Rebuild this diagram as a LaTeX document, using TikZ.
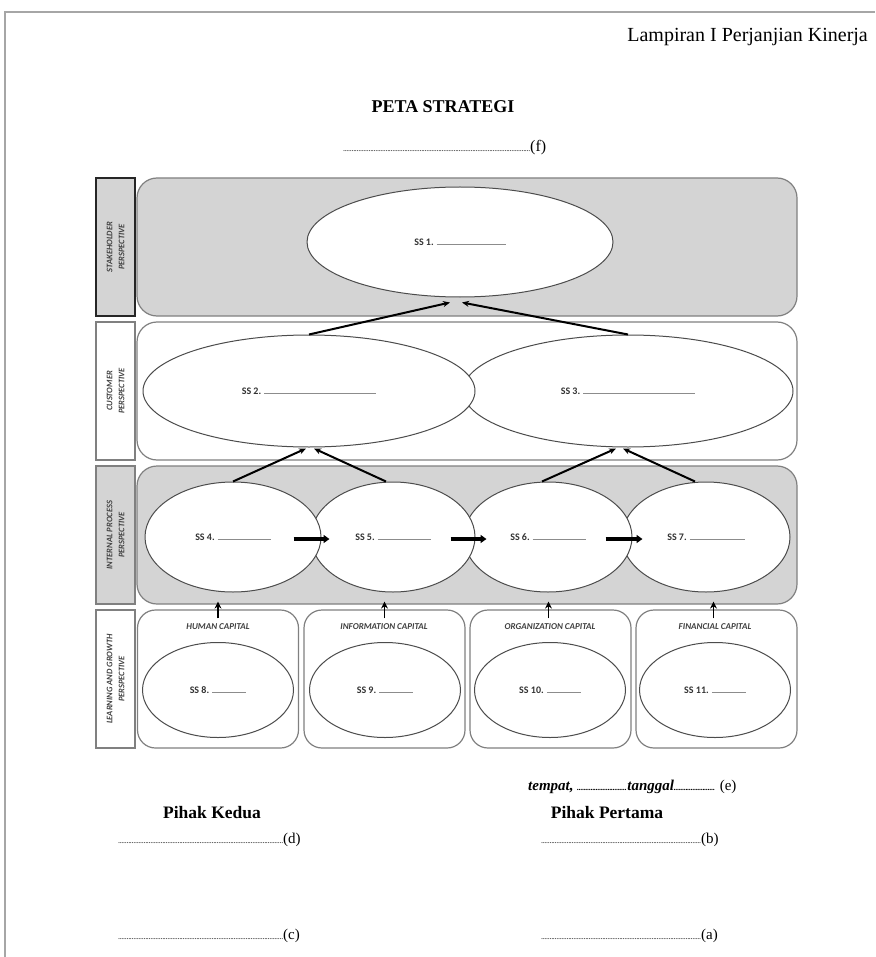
\documentclass[tikz,border=0pt]{standalone}
\usepackage{fontspec}
\setmainfont{Liberation Serif}
\newfontfamily\lblfont{Carlito}
\usetikzlibrary{shapes.geometric,arrows.meta,calc}
\newcommand{\ssline}[1]{\textcolor{black!45}{\rule[0.15ex]{#1}{0.7pt}}}
\newcommand{\dotrun}[1]{\makebox[#1]{\leaders\hbox to 1.7pt{\hss\fontsize{8}{8}\selectfont.\hss}\hfill}}
\begin{document}
\begin{tikzpicture}[x=1pt,y=-1pt,
  band/.style={draw=black!50, line width=1.2pt, rounded corners=20pt, minimum width=660pt, minimum height=138pt, inner sep=0pt},
  lgbox/.style={draw=black!50, line width=1.2pt, rounded corners=18pt, minimum width=161pt, minimum height=138pt, inner sep=0pt, fill=white},
  sidebox/.style={draw=black!50, line width=1.2pt, minimum width=39pt, minimum height=138pt, inner sep=0pt},
  sidetxt/.style={rotate=90, align=center, font=\lblfont\bfseries\itshape\fontsize{8.5}{12}\selectfont, text=black!75},
  goal/.style={ellipse, draw=black!70, line width=1pt, fill=white, inner sep=0pt, font=\lblfont\bfseries\fontsize{10}{11}\selectfont, text=black!80},
  captxt/.style={font=\lblfont\bfseries\itshape\fontsize{9}{11}\selectfont, text=black!75},
  link/.style={draw=black, line width=2pt, -{Stealth[length=7pt,width=6pt]}},
  flow/.style={draw=black, line width=3.2pt, -{Triangle[length=6pt,width=8pt]}},
  rise/.style={draw=black, line width=1.8pt, -{Stealth[length=7pt,width=7pt]}},
  ttl/.style={inner sep=0pt},
]
\useasboundingbox (0,0) rectangle (875,957);
\fill[white] (0,0) rectangle (875,957);
\draw[black!35, line width=1.2pt] (5,957) -- (5,12) -- (875,12);

% header
\node[ttl, font=\fontsize{20}{22}\selectfont, anchor=east] (lamp) at (868,37) {Lampiran I Perjanjian Kinerja};
\node[ttl, font=\bfseries\fontsize{18}{20}\selectfont] (title) at (443,107) {PETA STRATEGI};
\node[ttl, font=\fontsize{16}{18}\selectfont, anchor=west] (unit) at (343,148) {\dotrun{187pt}(f)};

% bands
\node[band, fill=black!17] (sh) at (467,247) {};
\node[band, fill=white] (cu) at (467,391) {};
\node[band, fill=black!17] (ip) at (467,535) {};
\node[lgbox] (lg1) at (218,679) {};
\node[lgbox] (lg2) at (384.5,679) {};
\node[lgbox] (lg3) at (550.5,679) {};
\node[lgbox] (lg4) at (716.5,679) {};

% side labels
\node[sidebox, fill=black!17, draw=black!85, line width=1.6pt] (shs) at (115.5,247) {};
\node[sidebox, fill=white] (cus) at (115.5,391) {};
\node[sidebox, fill=black!17] (ips) at (115.5,535) {};
\node[sidebox, fill=white] (lgs) at (115.5,679) {};
\node[sidetxt] (shst) at (shs) {STAKEHOLDER\\PERSPECTIVE};
\node[sidetxt] (cust) at (cus) {CUSTOMER\\PERSPECTIVE};
\node[sidetxt] (ipst) at (ips) {INTERNAL PROCESS\\PERSPECTIVE};
\node[sidetxt] (lgst) at (lgs) {LEARNING AND GROWTH\\PERSPECTIVE};

% goals
\node[goal, minimum width=306pt, minimum height=110pt] (ss1) at (460,242) {SS 1. \ssline{69pt}};
\node[goal, minimum width=330pt, minimum height=112pt] (ss3) at (628,391) {SS 3. \ssline{112pt}};
\node[goal, minimum width=332pt, minimum height=112pt] (ss2) at (309,391) {SS 2. \ssline{112pt}};
\node[goal, minimum width=168pt, minimum height=110pt] (ss7) at (706,537) {SS 7. \ssline{55pt}};
\node[goal, minimum width=168pt, minimum height=110pt] (ss6) at (548,537) {SS 6. \ssline{53pt}};
\node[goal, minimum width=164pt, minimum height=110pt] (ss5) at (393,537) {SS 5. \ssline{53pt}};
\node[goal, minimum width=176pt, minimum height=110pt] (ss4) at (233,537) {SS 4. \ssline{53pt}};
\node[goal, minimum width=151pt, minimum height=95pt] (ss8) at (218,690) {SS 8. \ssline{34pt}};
\node[goal, minimum width=151pt, minimum height=95pt] (ss9) at (385,690) {SS 9. \ssline{34pt}};
\node[goal, minimum width=151pt, minimum height=95pt] (ss10) at (550,690) {SS 10. \ssline{34pt}};
\node[goal, minimum width=151pt, minimum height=95pt] (ss11) at (715,690) {SS 11. \ssline{34pt}};

% capital labels
\node[captxt] (cap1) at (218,627) {HUMAN CAPITAL};
\node[captxt] (cap2) at (384,627) {INFORMATION CAPITAL};
\node[captxt] (cap3) at (550,627) {ORGANIZATION CAPITAL};
\node[captxt] (cap4) at (715,627) {FINANCIAL CAPITAL};

% links
\draw[link] (ss2.north) -- ([xshift=-10pt,yshift=-5pt]ss1.south);
\draw[link] (ss3.north) -- ([xshift=2pt,yshift=-5pt]ss1.south);
\draw[link] (ss4.north) -- ([xshift=-3pt,yshift=-1pt]ss2.south);
\draw[link] ([xshift=-7pt]ss5.north) -- ([xshift=5pt,yshift=-1pt]ss2.south);
\draw[link] ([xshift=-6pt]ss6.north) -- ([xshift=-12pt,yshift=-1pt]ss3.south);
\draw[link] ([xshift=-11pt]ss7.north) -- ([xshift=-5pt,yshift=-1pt]ss3.south);

\draw[flow] ($(ss4.east)+(-28,2)$) -- ($(ss5.west)+(19,2)$);
\draw[flow] ($(ss5.east)+(-25,2)$) -- ($(ss6.west)+(23,2)$);
\draw[flow] ($(ss6.east)+(-27,2)$) -- ($(ss7.west)+(21,2)$);

\draw[rise, shorten <=-9pt, shorten >=-3pt] (lg1.north) -- (lg1.north |- ip.south);
\draw[rise, shorten <=-9pt, shorten >=-3pt] (lg2.north) -- (lg2.north |- ip.south);
\draw[rise, shorten <=-9pt, shorten >=-3pt] ([xshift=-2pt]lg3.north) -- ([xshift=-2pt]lg3.north |- ip.south);
\draw[rise, shorten <=-9pt, shorten >=-3pt] ([xshift=-3pt]lg4.north) -- ([xshift=-3pt]lg4.north |- ip.south);

% signatures
\node[ttl, font=\fontsize{15}{18}\selectfont, anchor=west] (place) at (528,787) {\textbf{\textit{tempat, \dotrun{50pt}tanggal\dotrun{42pt}}}\ (e)};
\node[ttl, font=\bfseries\fontsize{17.5}{20}\selectfont] (p2) at (212,813) {Pihak Kedua};
\node[ttl, font=\bfseries\fontsize{17.5}{20}\selectfont] (p1) at (607,813) {Pihak Pertama};
\node[ttl, font=\fontsize{15}{18}\selectfont, anchor=west] (d) at (118,840) {\dotrun{165pt}(d)};
\node[ttl, font=\fontsize{15}{18}\selectfont, anchor=west] (b) at (541,840) {\dotrun{160pt}(b)};
\node[ttl, font=\fontsize{15}{18}\selectfont, anchor=west] (c) at (118,936) {\dotrun{165pt}(c)};
\node[ttl, font=\fontsize{15}{18}\selectfont, anchor=west] (a) at (541,936) {\dotrun{160pt}(a)};
\end{tikzpicture}
\end{document}
